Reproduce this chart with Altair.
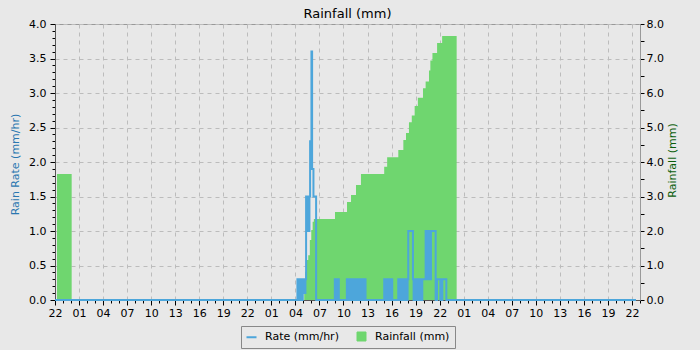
import altair as alt
import pandas as pd

# ---- data -------------------------------------------------------------
# x axis: hours elapsed since 22:00 on the first day (72 h shown + 1 h margin)
START_CLOCK_HOUR = 22
x_tick_hours = list(range(0, 74))

# rain rate (mm/hr): 5-minute records starting 04:00 on day 2 (hour 30)
RATE_FIRST_HOUR = 30.0
RATE_RECORD_MIN = 5
rate_values = [
    0, 0, 0,
    0.3, 0, 0.3, 0, 0.3, 0, 0.3, 0, 0.3,
    0.1, 0.3, 0.1, 0.3,
    1.5, 1.5, 1.0, 1.0, 1.0, 1.5,
    2.3, 2.3, 3.6, 1.9, 1.9,
    1.5, 1.5, 1.5, 1.5,
    0, 0, 0, 0, 0, 0, 0, 0, 0, 0, 0, 0, 0, 0,
    0, 0, 0, 0, 0, 0, 0, 0, 0, 0, 0, 0, 0, 0,
    0.3, 0, 0.3, 0, 0.3, 0.3,
    0, 0, 0, 0, 0, 0, 0, 0, 0, 0, 0, 0,
    0.3, 0, 0.3, 0, 0.3, 0, 0.3, 0, 0.3, 0, 0.3,
    0, 0, 0,
    0.3, 0, 0.3, 0, 0.3, 0.3,
    0,
    0.3, 0, 0.3, 0, 0.3, 0, 0.3,
    0, 0, 0, 0, 0, 0, 0, 0, 0, 0, 0, 0, 0, 0,
    0, 0, 0, 0, 0, 0, 0, 0, 0, 0, 0, 0, 0, 0,
    0.3, 0, 0.3, 0, 0.3, 0, 0.3, 0, 0.3, 0, 0.3, 0.3,
    0, 0, 0, 0, 0, 0, 0, 0, 0,
    0.3, 0, 0.3, 0, 0.3, 0, 0.3, 0, 0.3, 0, 0.3, 0, 0.3, 0, 0.3,
    1.0, 1.0, 1.0, 1.0, 1.0, 1.0, 1.0,
    0.3, 0, 0.3, 0, 0.3, 0, 0.3, 0, 0.3, 0, 0.3, 0, 0.3, 0, 0.3,
    0.3, 0.3, 0.3, 0.3,
    1.0, 0.3, 1.0, 0.3, 1.0, 0.3, 1.0, 0.3,
    1.0, 1.0, 1.0, 1.0, 1.0, 1.0, 1.0,
    0, 0,
    0.3, 0.3, 0.3, 0.3, 0.3,
    0, 0, 0,
    0.3, 0.3, 0.3, 0.3, 0.3, 0.3,
    0,
]
RATE_LAST_HOUR = 72.5

# daily cumulative rainfall (mm): step changes (hour, value)
rain_hours = [0.25, 2.08, 31.10, 31.20, 31.35, 31.60, 31.80, 31.98, 32.15, 32.30,
              34.94, 36.44, 36.94, 37.56, 38.18, 41.08, 41.45, 42.84, 43.47, 43.80,
              44.17, 44.52, 44.88, 45.28, 45.92, 46.25, 46.67, 46.84, 47.10, 47.68,
              48.31, 50.12]
rain_mm = [3.65, 0.0, 0.40, 0.82, 1.16, 1.30, 1.74, 2.03, 2.27, 2.35,
           2.55, 2.84, 3.04, 3.33, 3.65, 3.86, 4.14, 4.35, 4.64, 4.84,
           5.15, 5.35, 5.62, 5.86, 6.14, 6.33, 6.65, 6.94, 7.16, 7.45,
           7.65, 0.0]

left_ticks = [round(i * 0.1, 1) for i in range(41)]
right_ticks = [i * 0.5 for i in range(17)]

SERIES_RATE = "Rate (mm/hr)"
SERIES_RAIN = "Rainfall (mm)"
BLUE = "#4da6db"
GREEN = "#6fd66f"

# ---- tables ---------------------------------------------------------------
rate_hours = [0.0] + [RATE_FIRST_HOUR + i * RATE_RECORD_MIN / 60 for i in range(len(rate_values))] + [RATE_LAST_HOUR]
rate_df = pd.DataFrame({"hour": rate_hours,
                        "rate": [0.0] + rate_values + [0.0],
                        "series": SERIES_RATE})
rain_df = pd.DataFrame({"hour": rain_hours, "mm": rain_mm, "series": SERIES_RAIN})

FONT = "DejaVu Sans"
IS_RATE = f"datum.value === '{SERIES_RATE}'"

x_enc = alt.X(
    "hour:Q",
    scale=alt.Scale(domain=[0, 73], nice=False, zero=False),
    axis=alt.Axis(
        values=x_tick_hours,
        labelExpr=f"datum.value % 3 == 0 ? format(({START_CLOCK_HOUR} + datum.value) % 24, '02d') : ''",
        tickSize={"condition": {"test": "datum.value % 3 == 0", "value": 5}, "value": 3},
        grid=True,
        gridOpacity={"condition": {"test": "datum.value % 3 == 0", "value": 1}, "value": 0},
        gridDash=[4, 4],
        gridColor="#bcbcbc",
        labelOverlap=False,
        labelFlush=False,
        labelPadding=2,
        labelFont=FONT,
        labelFontSize=11,
        labelColor="#000000",
        tickColor="#000000",
        domainColor="#555555",
        title=None,
    ),
)

color_enc = alt.Color(
    "series:N",
    scale=alt.Scale(domain=[SERIES_RATE, SERIES_RAIN], range=[BLUE, GREEN]),
    legend=alt.Legend(
        title=None,
        orient="none",
        legendX=186,
        legendY=302,
        direction="horizontal",
        strokeColor="#888888",
        fillColor="#e8e8e8",
        padding=5,
        labelFont=FONT,
        labelFontSize=11,
        labelColor="#000000",
        columnPadding=16,
        labelOffset=8,
        symbolType=alt.ExprRef(expr=f"{IS_RATE} ? 'stroke' : 'square'"),
        symbolSize=alt.ExprRef(expr=f"{IS_RATE} ? 100 : 81"),
        symbolStrokeWidth=alt.ExprRef(expr=f"{IS_RATE} ? 2 : 1"),
        symbolStrokeColor=alt.ExprRef(expr=f"{IS_RATE} ? '{BLUE}' : '#777777'"),
        symbolFillColor=alt.ExprRef(expr=f"{IS_RATE} ? 'transparent' : '{GREEN}'"),
        symbolOpacity=1,
    ),
)

rain = alt.Chart(rain_df).mark_area(interpolate="step-after", opacity=1).encode(
    x=x_enc,
    y=alt.Y(
        "mm:Q",
        scale=alt.Scale(domain=[0, 8], nice=False),
        axis=alt.Axis(
            orient="right",
            values=right_ticks,
            labelExpr="datum.value % 1 == 0 ? format(datum.value, '.1f') : ''",
            tickSize=4,
            labelPadding=2,
            grid=False,
            labelOverlap=False,
            labelFlush=False,
            labelFont=FONT,
            labelFontSize=11,
            labelColor="#000000",
            tickColor="#000000",
            domainColor="#999999",
            title="Rainfall (mm)",
            titleFont=FONT,
            titleFontSize=11,
            titleFontWeight="normal",
            titleColor="#0b5e0b",
            titleAngle=270,
            titleAlign="center",
            titleBaseline="middle",
            titleX=32,
            titleY=136,
        ),
    ),
    color=color_enc,
)

rate = alt.Chart(rate_df).mark_line(interpolate="step-after", strokeWidth=2).encode(
    x=x_enc,
    y=alt.Y(
        "rate:Q",
        scale=alt.Scale(domain=[0, 4], nice=False),
        axis=alt.Axis(
            orient="left",
            values=left_ticks,
            labelExpr="round(datum.value * 10) % 5 == 0 ? format(datum.value, '.1f') : ''",
            tickSize={"condition": {"test": "round(datum.value * 10) % 5 == 0", "value": 5}, "value": 3},
            grid=True,
            gridOpacity={"condition": {"test": "round(datum.value * 10) % 5 == 0", "value": 1}, "value": 0},
            gridDash=[4, 4],
            gridColor="#bcbcbc",
            labelPadding=4,
            labelOverlap=False,
            labelFlush=False,
            labelFont=FONT,
            labelFontSize=11,
            labelColor="#000000",
            tickColor="#000000",
            domainColor="#555555",
            title="Rain Rate (mm/hr)",
            titleFont=FONT,
            titleFontSize=11,
            titleFontWeight="normal",
            titleColor="#2a77b0",
            titleAngle=270,
            titleAlign="center",
            titleBaseline="middle",
            titleX=-40,
            titleY=140,
        ),
    ),
    color=color_enc,
)

chart = (
    alt.layer(rain, rate)
    .resolve_scale(y="independent")
    .properties(
        width=585,
        height=276,
        autosize=alt.AutoSizeParams(type="none"),
        padding={"left": 55, "top": 24, "right": 60, "bottom": 50},
        background="#e8e8e8",
        title=alt.TitleParams(
            "Rainfall (mm)",
            font=FONT,
            fontSize=13,
            fontWeight="normal",
            color="#000000",
            anchor="middle",
            offset=-3,
        ),
    )
    .configure_view(stroke="#999999")
)

chart.save("out.html", embed_options={"renderer": "svg", "actions": False})
